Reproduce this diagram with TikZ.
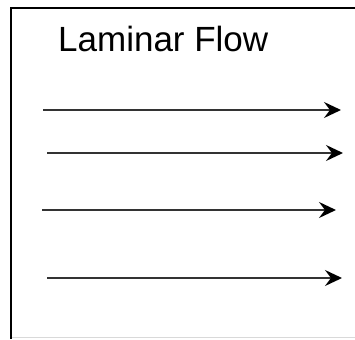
\documentclass[tikz,border=0pt]{standalone}
\usepackage{fontspec}
\setmainfont{Liberation Sans}
\usetikzlibrary{arrows.meta}
\begin{document}
\begin{tikzpicture}[x=1pt,y=-1pt,
  flow/.style={line width=2pt, draw=black!80, -{Stealth[length=17pt,width=16pt,inset=6pt,black]}},
  frame/.style={line width=2pt, draw=black}]
\useasboundingbox (0,0) rectangle (355,339);
\fill[white] (0,0) rectangle (355,339);
\draw[line width=1pt, black!15] (10,337.5) -- (355,337.5);
\draw[frame] (355,8) -- (10.5,8) -- (10.5,339);
\node[anchor=base west, inner sep=0pt, font=\fontsize{35}{40}\selectfont] (title) at (58,52) {Laminar Flow};
\coordinate (a1s) at (43,110); \coordinate (a1e) at (341,110);
\coordinate (a2s) at (47,153); \coordinate (a2e) at (343,153);
\coordinate (a3s) at (42,210); \coordinate (a3e) at (336,210);
\coordinate (a4s) at (47,278); \coordinate (a4e) at (342,278);
\draw[flow] (a1s) -- (a1e);
\draw[flow] (a2s) -- (a2e);
\draw[flow] (a3s) -- (a3e);
\draw[flow] (a4s) -- (a4e);
\end{tikzpicture}
\end{document}
